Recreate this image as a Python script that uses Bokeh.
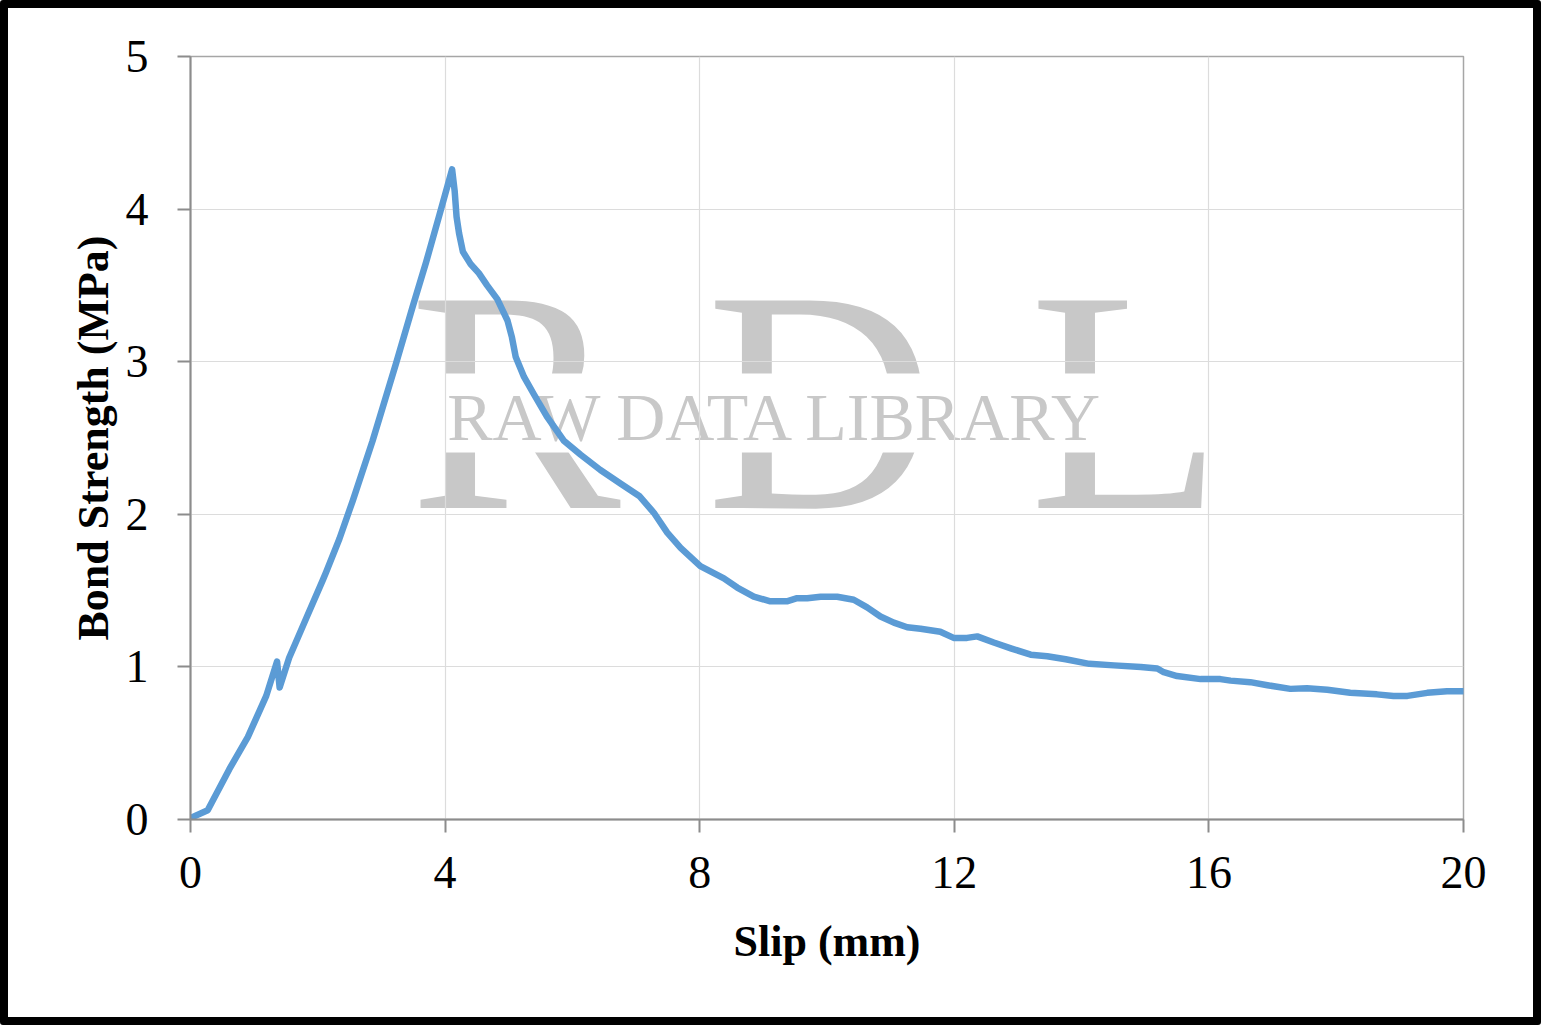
from bokeh.plotting import figure
from bokeh.models import Range1d, FixedTicker, Label, BoxAnnotation
from bokeh.embed import file_html
from bokeh.resources import INLINE

slip = [0.00, 0.27, 0.61, 0.90, 1.19, 1.36, 1.40, 1.55, 1.82, 2.08, 2.13, 2.34, 2.55, 2.86,
        3.23, 3.49, 3.70, 3.91, 4.11, 4.15, 4.18, 4.22, 4.28, 4.40, 4.53, 4.66, 4.82, 4.98,
        5.05, 5.11, 5.24, 5.39, 5.60, 5.87, 6.13, 6.44, 6.76, 7.05, 7.28, 7.49, 7.70, 8.01,
        8.38, 8.59, 8.85, 9.11, 9.37, 9.53, 9.69, 9.90, 10.16, 10.42, 10.63, 10.84, 11.05,
        11.26, 11.47, 11.78, 11.99, 12.20, 12.36, 12.62, 12.90, 13.20, 13.46, 13.75, 14.12,
        14.51, 14.93, 15.19, 15.29, 15.50, 15.87, 16.18, 16.34, 16.65, 16.92, 17.28, 17.54,
        17.86, 18.22, 18.64, 18.90, 19.12, 19.43, 19.74, 20.00]
bond = [0.01, 0.06, 0.33, 0.54, 0.81, 1.035, 0.865, 1.06, 1.32, 1.57, 1.62, 1.84, 2.09, 2.48,
        2.99, 3.36, 3.65, 3.96, 4.26, 4.12, 3.95, 3.84, 3.72, 3.64, 3.58, 3.50, 3.41, 3.27,
        3.16, 3.03, 2.90, 2.79, 2.64, 2.48, 2.39, 2.29, 2.20, 2.12, 2.01, 1.88, 1.78, 1.66,
        1.58, 1.52, 1.46, 1.43, 1.43, 1.45, 1.45, 1.46, 1.46, 1.44, 1.39, 1.33, 1.29,
        1.26, 1.25, 1.23, 1.19, 1.19, 1.20, 1.16, 1.12, 1.08, 1.07, 1.05, 1.02,
        1.01, 1.00, 0.99, 0.965, 0.94, 0.92, 0.92, 0.91, 0.90, 0.88, 0.856, 0.86,
        0.85, 0.83, 0.82, 0.81, 0.81, 0.83, 0.84, 0.84]

x_ticks = [0, 4, 8, 12, 16, 20]
y_ticks = [0, 1, 2, 3, 4, 5]

FONT = "Liberation Serif"

p = figure(output_backend="svg", toolbar_location=None,
           frame_width=1273, frame_height=763,
           min_border_left=182, min_border_right=70, min_border_top=48, min_border_bottom=198,
           x_range=Range1d(0, 20), y_range=Range1d(0, 5),
           background_fill_color="white", border_fill_color="white")
p.styles = {"border": "8px solid black", "box-sizing": "content-box", "border-radius": "3px"}

p.outline_line_color = "#a6a6a6"
p.outline_line_width = 1.5

for ax, ticks in ((p.xaxis[0], x_ticks), (p.yaxis[0], y_ticks)):
    ax.ticker = FixedTicker(ticks=ticks)
    ax.axis_line_color = "#8c8c8c"
    ax.axis_line_width = 2
    ax.major_tick_line_color = "#8c8c8c"
    ax.major_tick_line_width = 2
    ax.major_tick_out = 13
    ax.major_tick_in = 0
    ax.minor_tick_line_color = None
    ax.major_label_text_font = FONT
    ax.major_label_text_font_size = "46px"
    ax.major_label_text_color = "black"
    ax.axis_label_text_font = FONT
    ax.axis_label_text_font_size = "44px"
    ax.axis_label_text_font_style = "bold"
    ax.axis_label_text_color = "black"

p.xaxis.axis_label = "Slip (mm)"
p.yaxis.axis_label = "Bond Strength (MPa)"
p.xaxis.major_label_standoff = 24
p.yaxis.major_label_standoff = 29
p.xaxis.axis_label_standoff = 26
p.yaxis.axis_label_standoff = 5

p.xgrid.ticker = FixedTicker(ticks=x_ticks)
p.ygrid.ticker = FixedTicker(ticks=y_ticks)
p.grid.grid_line_color = "#dcdcdc"
p.grid.grid_line_width = 1.2

# watermark
WM = "#c8c8c8"
for letter, lx in (("R", 5.10), ("D", 9.90), ("L", 14.70)):
    p.add_layout(Label(x=lx, y=2.739, text=letter, text_font=FONT, text_font_size="317px",
                       text_color=WM, text_align="center", text_baseline="alphabetic",
                       level="image"))
p.add_layout(BoxAnnotation(left=3.30, right=16.3, bottom=2.405, top=2.923,
                           fill_color="white", fill_alpha=1.0, line_color=None,
                           level="image"))
p.add_layout(Label(x=9.20, y=2.636, text="RAW DATA LIBRARY", text_font=FONT,
                   text_font_size="68px", text_color=WM, text_align="center",
                   text_baseline="alphabetic", level="image"))

p.line(slip, bond, line_color="#5b9bd5", line_width=6.5, line_join="round", line_cap="round")

open("out.html", "w").write(file_html(p, INLINE))
